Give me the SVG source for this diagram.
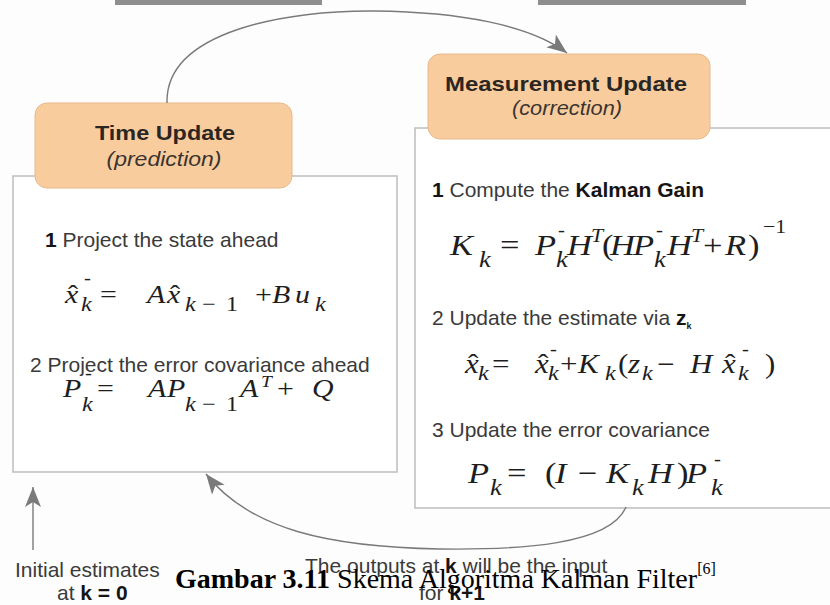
<svg xmlns="http://www.w3.org/2000/svg" width="830" height="605" viewBox="0 0 830 605">
<style>
.hd{font-family:"Liberation Sans",Arial,sans-serif;font-weight:bold;font-size:21px;fill:#2b2622;text-anchor:middle}
.hi{font-family:"Liberation Sans",Arial,sans-serif;font-style:italic;font-size:20px;fill:#3a3430;text-anchor:middle}
.t{font-family:"Liberation Sans",Arial,sans-serif;font-size:21px;fill:#3a3a3a}
.b{font-weight:bold;fill:#151515}
.m{font-family:"Liberation Serif","Times New Roman",serif;font-style:italic;fill:#1e1e1e}
.u{font-style:normal}
.e1{font-size:26px}
.e2{font-size:27px}
.e3{font-size:30px}
.s1{font-size:21px}
.s3{font-size:23px}
.p{font-size:18px}
.cap{font-family:"Liberation Serif","Times New Roman",serif;font-size:28px;fill:#000}
.panel{fill:#fff;stroke:#bdbdbd;stroke-width:1.5}
.head{fill:#f9cc9e;stroke:#e8b98b;stroke-width:1}
.con{fill:none;stroke:#7a7a7a;stroke-width:1.4}
.bar{fill:#8e8e8e}
</style>
<defs>
<marker id="ah" markerUnits="userSpaceOnUse" markerWidth="22" markerHeight="18" refX="20" refY="8" orient="auto">
<path d="M0,0 L20,8 L0,16 L5,8 z" fill="#7a7a7a"/>
</marker>
</defs>
<rect width="830" height="605" fill="#fdfdfd"/>
<rect class="bar" x="115" y="0" width="207" height="5"/>
<rect class="bar" x="538" y="0" width="208" height="5"/>

<g id="time-update-panel">
<rect class="panel" x="13" y="176" width="384" height="296"/>
<text class="t" x="45" y="247"><tspan class="b">1</tspan> Project the state ahead</text>
<text class="t" x="30" y="372">2 Project the error covariance ahead</text>
<g transform="scale(1.15,1)">
<text class="m e1" x="56.5" y="303">x</text><text class="m u e1" x="59.1" y="303">ˆ</text>
<text class="m u p" x="73" y="284">-</text><text class="m s1" x="70.4" y="311">k</text>
<text class="m u e1" x="87" y="303">=</text>
<text class="m e1" x="127.8" y="303">A</text>
<text class="m e1" x="145.2" y="303">x</text><text class="m u e1" x="147.8" y="303">ˆ</text>
<text class="m s1" x="160.9" y="311">k</text><text class="m u s1" x="175.7" y="311">−</text><text class="m u s1" x="196.5" y="311">1</text>
<text class="m u e1" x="221.7" y="303">+</text>
<text class="m e1" x="236.5" y="303">B</text><text class="m e1" x="256.5" y="303">u</text><text class="m s1" x="273.9" y="311">k</text>

<text class="m e1" x="54.8" y="397">P</text>
<text class="m u p" x="73.9" y="379">-</text><text class="m s1" x="71.3" y="411">k</text>
<text class="m u e1" x="84.3" y="397">=</text>
<text class="m e1" x="128.7" y="397">A</text><text class="m e1" x="145.2" y="397">P</text>
<text class="m s1" x="160.9" y="411">k</text><text class="m u s1" x="175.7" y="411">−</text><text class="m u s1" x="196.5" y="411">1</text>
<text class="m e1" x="208.7" y="397">A</text><text class="m" font-size="17" x="227" y="387">T</text>
<text class="m u e1" x="240.9" y="397">+</text>
<text class="m e1" x="271.3" y="397">Q</text>
</g>
</g>

<g id="time-update-header">
<rect class="head" x="35" y="103" width="257" height="85" rx="12"/>
<text class="hd" x="165" y="140" textLength="140" lengthAdjust="spacingAndGlyphs">Time Update</text>
<text class="hi" x="164" y="166" textLength="115" lengthAdjust="spacingAndGlyphs">(prediction)</text>
</g>

<g id="measurement-update-panel">
<rect class="panel" x="415" y="128" width="430" height="380"/>
<text class="t" x="432" y="197"><tspan class="b">1</tspan> Compute the <tspan class="b">Kalman Gain</tspan></text>
<text class="t" x="432" y="325">2 Update the estimate via <tspan class="b">z</tspan><tspan class="b" font-size="9" dy="4">k</tspan></text>
<text class="t" x="432" y="437">3 Update the error covariance</text>
<g transform="scale(1.15,1)">
<text class="m e3" x="391.3" y="255">K</text><text class="m s3" x="416.5" y="267">k</text>
<text class="m u e3" x="434.8" y="255">=</text>
<text class="m e3" x="465.2" y="255">P</text><text class="m u p" x="485.2" y="236">-</text><text class="m s3" x="483.5" y="267">k</text>
<text class="m e3" x="493" y="255">H</text><text class="m" font-size="19" x="513.9" y="242">T</text>
<text class="m u e3" x="523.5" y="255">(</text>
<text class="m e3" x="530.4" y="255">H</text><text class="m e3" x="550.4" y="255">P</text><text class="m u p" x="570.4" y="236">-</text><text class="m s3" x="568.7" y="267">k</text>
<text class="m e3" x="580" y="255">H</text><text class="m" font-size="19" x="600.9" y="242">T</text>
<text class="m u e3" x="611.3" y="255">+</text>
<text class="m e3" x="630.4" y="255">R</text><text class="m u e3" x="650.4" y="255">)</text>
<text class="m u" font-size="19" x="663.5" y="233">−1</text>

<text class="m e2" x="404.3" y="373">x</text><text class="m u e2" x="407" y="373">ˆ</text><text class="m s1" x="415.7" y="380">k</text>
<text class="m u e2" x="427.8" y="373">=</text>
<text class="m e2" x="465.2" y="373">x</text><text class="m u e2" x="467.8" y="373">ˆ</text><text class="m u p" x="478.3" y="355">-</text><text class="m s1" x="476.5" y="380">k</text>
<text class="m u e2" x="487" y="373">+</text>
<text class="m e2" x="502.6" y="373">K</text><text class="m s1" x="526.1" y="380">k</text>
<text class="m u e2" x="537.4" y="373">(</text>
<text class="m e2" x="546.1" y="373">z</text><text class="m s1" x="558.3" y="380">k</text>
<text class="m u e2" x="571.3" y="373">−</text>
<text class="m e2" x="600" y="373">H</text>
<text class="m e2" x="627.8" y="373">x</text><text class="m u e2" x="630.4" y="373">ˆ</text><text class="m u p" x="645.2" y="355">-</text><text class="m s1" x="641.7" y="380">k</text>
<text class="m u e2" x="665.2" y="373">)</text>

<text class="m e3" x="407" y="483">P</text><text class="m s3" x="426.1" y="495">k</text>
<text class="m u e3" x="440.9" y="483">=</text>
<text class="m u e3" x="473.9" y="483">(</text>
<text class="m e3" x="482.6" y="483">I</text>
<text class="m u e3" x="502.6" y="483">−</text>
<text class="m e3" x="527" y="483">K</text><text class="m s3" x="549.6" y="495">k</text>
<text class="m e3" x="563.5" y="483">H</text>
<text class="m u e3" x="588.7" y="483">)</text>
<text class="m e3" x="596.5" y="483">P</text><text class="m u p" x="620.9" y="465">-</text><text class="m s3" x="618.3" y="495">k</text>
</g>
</g>

<g id="measurement-update-header">
<rect class="head" x="428" y="54" width="282" height="85" rx="12"/>
<text class="hd" x="566" y="91" textLength="242" lengthAdjust="spacingAndGlyphs">Measurement Update</text>
<text class="hi" x="567" y="115" textLength="110" lengthAdjust="spacingAndGlyphs">(correction)</text>
</g>

<g id="connectors">
<path class="con" d="M167,103 C165,30 290,10 375,11 C460,12 530,25 567,53" marker-end="url(#ah)"/>
<path class="con" d="M626,507 C610,545 520,550 440,549 C330,547 250,530 206,474" marker-end="url(#ah)"/>
<path class="con" d="M33,550 L33,487" marker-end="url(#ah)"/>
</g>

<g id="labels">
<text class="t" x="15" y="577">Initial estimates</text>
<text class="t" x="57" y="600">at <tspan class="b">k = 0</tspan></text>
<text class="t" x="305" y="573">The outputs at <tspan class="b">k</tspan>  will be the input</text>
<text class="t" x="452" y="600" text-anchor="middle">for <tspan class="b">k+1</tspan></text>
<text class="cap" x="175" y="588"><tspan font-weight="bold">Gambar 3.11</tspan> Skema Algoritma Kalman Filter<tspan font-size="16" dy="-14">[6]</tspan></text>
</g>
</svg>
